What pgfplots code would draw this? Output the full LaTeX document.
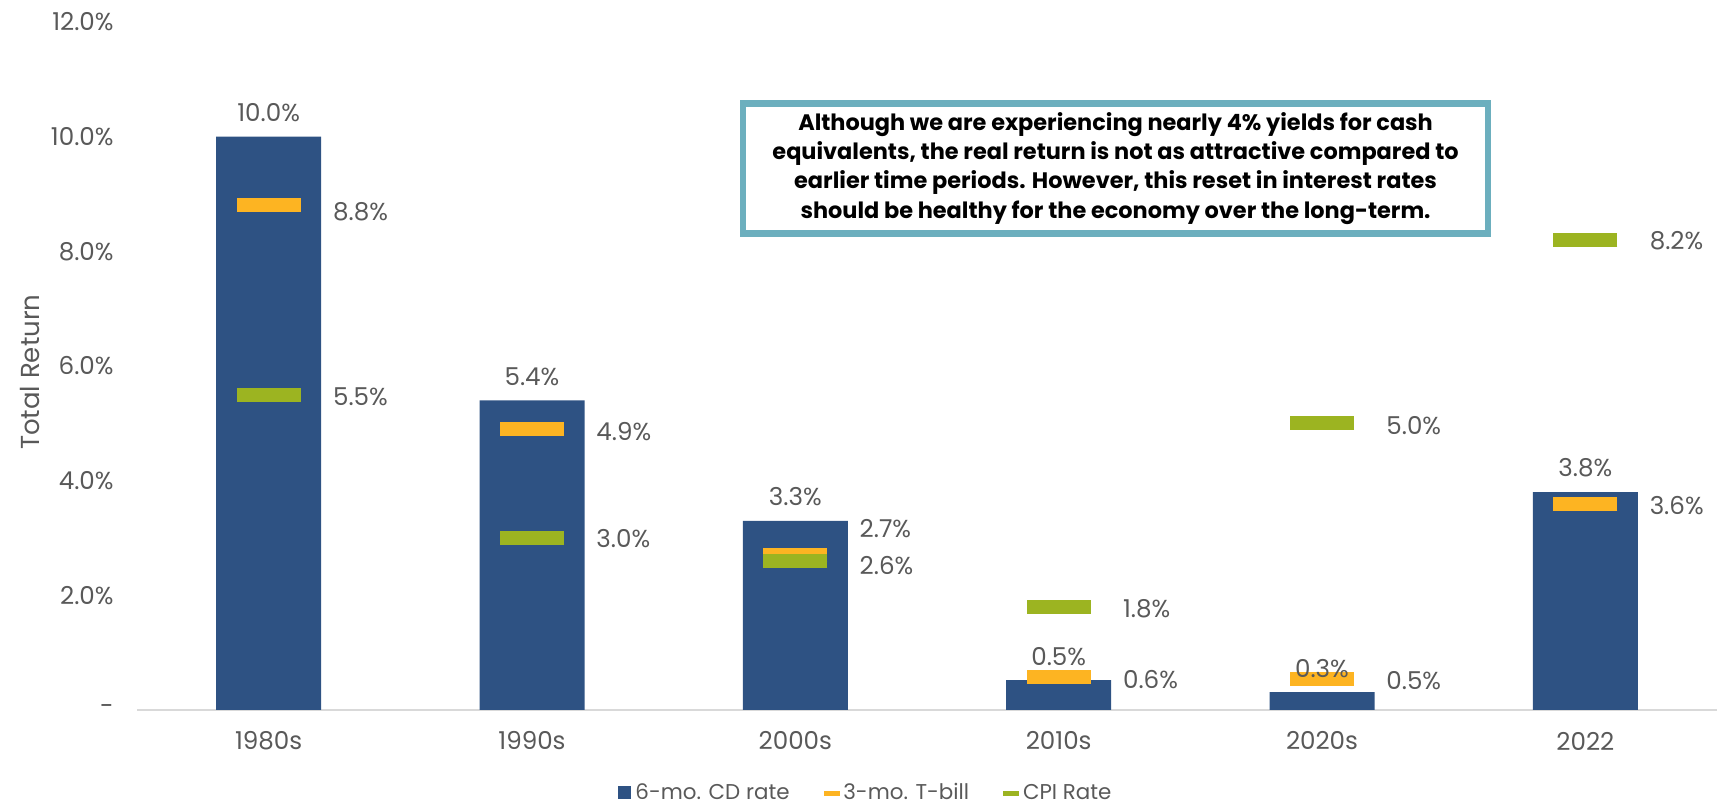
\documentclass[border=0pt]{standalone}
\usepackage{fontspec}
\setmainfont{Poppins}
\usepackage{pgfplots}
\pgfplotsset{compat=1.18}
\usepackage{pgfplotstable}
\definecolor{cdblue}{HTML}{2E5283}
\definecolor{tbill}{HTML}{FDB422}
\definecolor{cpi}{HTML}{9CB421}
\definecolor{boxteal}{HTML}{6CAFBE}
\definecolor{axgray}{HTML}{D9D9D9}
\definecolor{txtgray}{HTML}{595959}
\newcommand\lbl{\fontsize{12.3pt}{14pt}\selectfont}
\newcommand\lgd{\fontsize{10.7pt}{12pt}\selectfont}
\newcommand\lblL{\fontsize{13pt}{15pt}\selectfont}

\pgfplotstableread{
x cd
0 10.0
1 5.4
2 3.3
3 0.52
4 0.31
5 3.8
}\cdtable
\pgfplotstableread{
x y dy
0 8.8 -3
1 4.9 -1.5
2 2.7 13.5
3 0.57 -1
4 0.54 -1
5 3.6 -1
}\tbtable
\pgfplotstableread{
x y dy
0 5.5 -1
1 3.0 -0.5
2 2.6 -2.3
3 1.8 -1
4 5.0 -1
5 8.2 -0.5
}\cpitable

\begin{document}
\begin{tikzpicture}
\begin{axis}[
  scale only axis, width=790pt, height=344pt,
  xmin=-0.5, xmax=5.5, ymin=0, ymax=12,
  axis x line*=bottom, axis y line*=left,
  x axis line style={draw=axgray, line width=1pt},
  y axis line style={draw=none},
  major tick length=0pt,
  xtick={0,...,5},
  xticklabels={1980s,1990s,2000s,2010s,2020s,2022},
  ytick={0,2,...,12},
  yticklabels={-,2.0\%,4.0\%,6.0\%,8.0\%,10.0\%,12.0\%},
  tick label style={font=\lbl, text=txtgray},
  xticklabel style={anchor=center, yshift=-15.5pt, inner sep=0pt},
  yticklabel style={anchor=east, xshift=-11.5pt, inner sep=0pt},
  ylabel={Total Return},
  ylabel style={at={(axis description cs:-0.0677,0.491)}, anchor=center, font=\lblL, text=txtgray},
  /pgf/number format/assume math mode=true,
  legend style={at={(axis description cs:0.462,-0.1206)}, anchor=center, draw=none, fill=none,
    font=\lgd, text=txtgray, legend columns=-1, inner sep=0pt,
    /tikz/every even column/.append style={column sep=15pt}},
  legend cell align=left,
]
\addplot[ybar, bar width=52.5pt, fill=cdblue, draw=none,
  legend image code/.code={\fill[cdblue] (0pt,-3.25pt) rectangle (6.5pt,3.25pt);}]
  table[x=x,y=cd]{\cdtable};
\addlegendentry{6-mo. CD rate}
\addplot[only marks, mark=-, mark size=16pt, color=tbill, mark options={line width=7pt},
  legend image code/.code={\fill[tbill] (0pt,-1pt) rectangle (7.5pt,1pt);}]
  table[x=x,y=y]{\tbtable};
\addlegendentry{3-mo. T-bill}
\addplot[only marks, mark=-, mark size=16pt, color=cpi, mark options={line width=7pt},
  legend image code/.code={\fill[cpi] (0pt,-1pt) rectangle (7.5pt,1pt);}]
  table[x=x,y=y]{\cpitable};
\addlegendentry{CPI Rate}

\addplot[draw=none, mark=none, forget plot,
  nodes near coords={\pgfmathprintnumber[fixed,fixed zerofill,precision=1]{\pgfplotspointmeta}\%},
  every node near coord/.append style={anchor=center, inner sep=0pt, yshift=12pt, font=\lbl, text=txtgray}]
  table[x=x,y=cd]{\cdtable};
\addplot[draw=none, mark=none, forget plot,
  visualization depends on={\thisrow{dy} \as \dy},
  nodes near coords={\pgfmathprintnumber[fixed,fixed zerofill,precision=1]{\pgfplotspointmeta}\%},
  every node near coord/.append style={anchor=west, inner sep=0pt, xshift=32pt, yshift=\dy pt, font=\lbl, text=txtgray}]
  table[x=x,y=y]{\tbtable};
\addplot[draw=none, mark=none, forget plot,
  visualization depends on={\thisrow{dy} \as \dy},
  nodes near coords={\pgfmathprintnumber[fixed,fixed zerofill,precision=1]{\pgfplotspointmeta}\%},
  every node near coord/.append style={anchor=west, inner sep=0pt, xshift=32pt, yshift=\dy pt, font=\lbl, text=txtgray}]
  table[x=x,y=y]{\cpitable};

\node[draw=boxteal, line width=3.2pt, fill=white, minimum width=372.5pt, minimum height=65pt,
  inner sep=0pt, align=center, font={\fontsize{11.2pt}{14.6pt}\selectfont\bfseries}, text=black]
  at (axis cs:3.216,9.445)
  {Although we are experiencing nearly 4\% yields for cash\\
   equivalents, the real return is not as attractive compared to\\
   earlier time periods. However, this reset in interest rates\\
   should be healthy for the economy over the long-term.};
\end{axis}
\pgfresetboundingbox
\path[use as bounding box] ([xshift=-68.5pt,yshift=-47.5pt]current axis.south west) rectangle ([yshift=11pt]current axis.north east);
\end{tikzpicture}
\end{document}
